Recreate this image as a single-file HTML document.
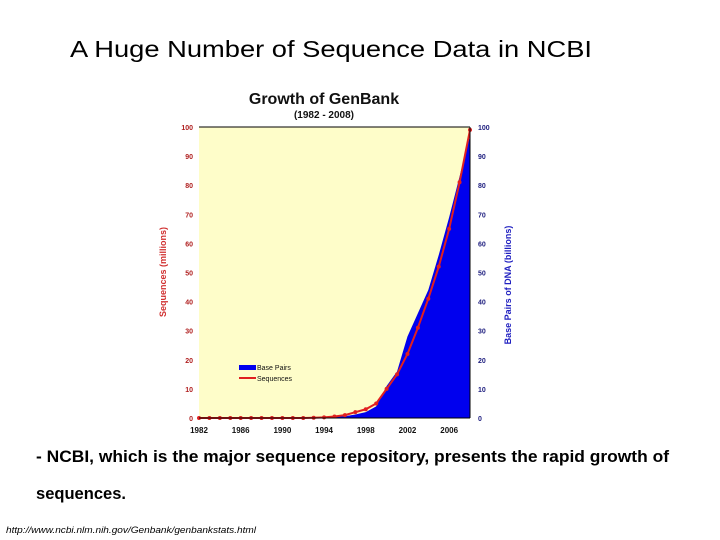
<!DOCTYPE html>
<html><head><meta charset="utf-8"><style>
html,body{margin:0;padding:0;background:#fff}
svg{display:block}
text{font-family:"Liberation Sans",sans-serif}
</style></head><body>
<svg id="s" width="720" height="540">
<text x="70" y="57" font-size="23" textLength="522" lengthAdjust="spacingAndGlyphs" fill="#000">A Huge Number of Sequence Data in NCBI</text>
<text x="324" y="104" font-size="16" font-weight="bold" text-anchor="middle" fill="#111">Growth of GenBank</text>
<text x="324" y="118" font-size="10" font-weight="bold" text-anchor="middle" fill="#111">(1982 - 2008)</text>
<g id="chart"></g>
<text x="36" y="462" font-size="17" font-weight="bold" textLength="633" lengthAdjust="spacingAndGlyphs" fill="#000">- NCBI, which is the major sequence repository, presents the rapid growth of</text>
<text x="36" y="499" font-size="17" font-weight="bold" textLength="90" lengthAdjust="spacingAndGlyphs" fill="#000">sequences.</text>
<text x="6" y="533" font-size="9" font-style="italic" textLength="250" lengthAdjust="spacingAndGlyphs" fill="#000">http://www.ncbi.nlm.nih.gov/Genbank/genbankstats.html</text>
</svg>
<script>
const years=[1982,1983,1984,1985,1986,1987,1988,1989,1990,1991,1992,1993,1994,1995,1996,1997,1998,1999,2000,2001,2002,2003,2004,2005,2006,2007,2008];
const sequences=[0,0,0,0,0,0,0,0,0,0,0,0.1,0.2,0.5,1,2,3,5,10,15,22,31,41,52,65,81,99];
const basePairs=[0,0,0,0,0,0,0,0,0,0,0,0,0.1,0.4,0.6,1.2,2,4,11,16,28,36,44,56,69,83,97];
const yTicks=[0,10,20,30,40,50,60,70,80,90,100];
const xTickLabels=[1982,1986,1990,1994,1998,2002,2006];
const NS='http://www.w3.org/2000/svg';
const g=document.getElementById('chart');
const L=199,R=470,T=127,B=418;
const x=v=>L+(v-1982)/(2008-1982)*(R-L);
const y=v=>B-v/100*(B-T);
function mk(tag,a){const e=document.createElementNS(NS,tag);for(const k in a)e.setAttribute(k,a[k]);g.appendChild(e);return e;}
let e=mk('rect',{x:L,y:T,width:R-L,height:B-T,fill:'#fefdc9'});


let d='M'+x(years[0])+','+y(0);
years.forEach((yr,i)=>{d+=' L'+x(yr)+','+y(basePairs[i]);});
d+=' L'+x(2008)+','+y(0)+'Z';
e=mk('path',{d:d,fill:'#0000ee'});


let pts=years.map((yr,i)=>x(yr)+','+y(sequences[i])).join(' ');
e=mk('polyline',{points:pts,fill:'none',stroke:'#e02020','stroke-width':2});


years.forEach((yr,i)=>{
  const m=mk('circle',{cx:x(yr),cy:y(sequences[i]),r:2,fill:'#e02020'});
  
  
});
e=mk('line',{x1:L,y1:T,x2:R,y2:T,stroke:'#000','stroke-width':1});


e=mk('line',{x1:L,y1:B,x2:R,y2:B,stroke:'#000','stroke-width':1});


e=mk('line',{x1:R,y1:T,x2:R,y2:B,stroke:'#000','stroke-width':1});


yTicks.forEach(v=>{
  let t=mk('text',{x:L-6,y:y(v)+3,'font-size':7,'font-weight':'bold','text-anchor':'end',fill:'#b02020'});
  t.textContent=v;
  
  
  t=mk('text',{x:R+8,y:y(v)+3,'font-size':7,'font-weight':'bold','text-anchor':'start',fill:'#202080'});
  t.textContent=v;
  
  
});
xTickLabels.forEach(v=>{
  const t=mk('text',{x:x(v),y:B+15,'font-size':8,'font-weight':'bold','text-anchor':'middle',fill:'#111'});
  t.textContent=v;
  
  
});
let t=mk('text',{x:0,y:0,'font-size':9,'font-weight':'bold','text-anchor':'middle',fill:'#d03030',transform:'translate(166,272) rotate(-90)'});
t.textContent='Sequences (millions)';


t=mk('text',{x:0,y:0,'font-size':9,'font-weight':'bold','text-anchor':'middle',fill:'#2020c0',transform:'translate(511,285) rotate(-90)'});
t.textContent='Base Pairs of DNA (billions)';


e=mk('rect',{x:239,y:365,width:17,height:5,fill:'#0000ee'});


t=mk('text',{x:257,y:370,'font-size':7,fill:'#111'});
t.textContent='Base Pairs';


e=mk('line',{x1:239,y1:378,x2:256,y2:378,stroke:'#e02020','stroke-width':2});


t=mk('text',{x:257,y:381,'font-size':7,fill:'#111'});
t.textContent='Sequences';


</script>
</body></html>
